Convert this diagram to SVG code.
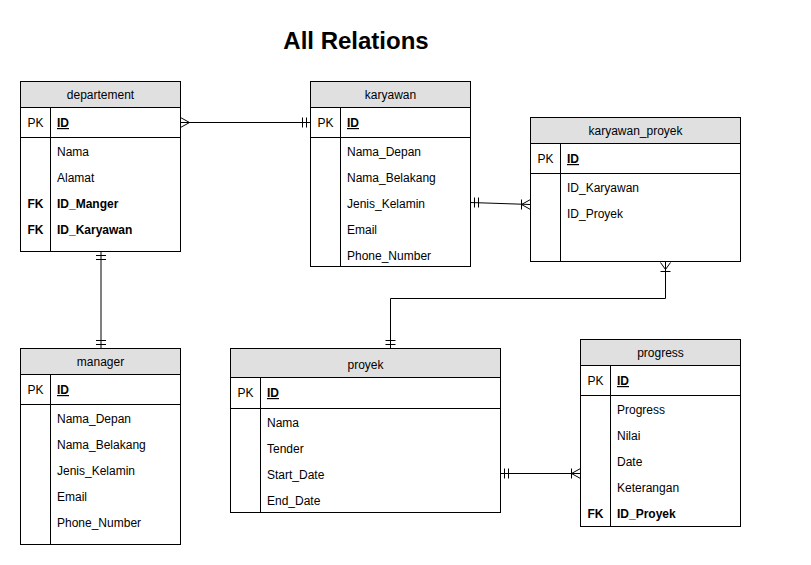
<svg xmlns="http://www.w3.org/2000/svg" width="811" height="565" viewBox="0 0 811 565">
<style>
text{font-family:"Liberation Sans",Arial,sans-serif;font-size:12px;fill:#000}
.title{font-size:24px;font-weight:bold}
.hdr{fill:#e0e0e0;stroke:#000;stroke-width:1}
.box{fill:#fff;stroke:#000;stroke-width:1}
.ln{stroke:#000;stroke-width:1;fill:none}
.b{font-weight:bold}
.u{font-weight:bold;text-decoration:underline}
.c{text-anchor:middle}
</style>
<rect width="811" height="565" fill="#fff"/>
<text class="title c" x="356" y="49">All Relations</text>

<g id="departement">
<rect class="box" x="20.5" y="81.5" width="160" height="170"/>
<rect class="hdr" x="20.5" y="81.5" width="160" height="26"/>
<line class="ln" x1="20.5" y1="137.5" x2="180.5" y2="137.5"/>
<line class="ln" x1="50.5" y1="107.5" x2="50.5" y2="251.5"/>
<text class="c" x="100.5" y="99">departement</text>
<text class="c" x="35.5" y="127">PK</text>
<text class="u" x="57" y="127">ID</text>
<text x="57" y="156">Nama</text>
<text x="57" y="182">Alamat</text>
<text class="b c" x="35.5" y="208">FK</text>
<text class="b" x="57" y="208">ID_Manger</text>
<text class="b c" x="35.5" y="234">FK</text>
<text class="b" x="57" y="234">ID_Karyawan</text>
</g>

<g id="karyawan">
<rect class="box" x="310.5" y="81.5" width="160" height="185"/>
<rect class="hdr" x="310.5" y="81.5" width="160" height="26"/>
<line class="ln" x1="310.5" y1="137.5" x2="470.5" y2="137.5"/>
<line class="ln" x1="340.5" y1="107.5" x2="340.5" y2="266.5"/>
<text class="c" x="390.5" y="99">karyawan</text>
<text class="c" x="325.5" y="127">PK</text>
<text class="u" x="347" y="127">ID</text>
<text x="347" y="156">Nama_Depan</text>
<text x="347" y="182">Nama_Belakang</text>
<text x="347" y="208">Jenis_Kelamin</text>
<text x="347" y="234">Email</text>
<text x="347" y="260">Phone_Number</text>
</g>

<g id="karyawan_proyek">
<rect class="box" x="530.5" y="117.5" width="210" height="144"/>
<rect class="hdr" x="530.5" y="117.5" width="210" height="26"/>
<line class="ln" x1="530.5" y1="173.5" x2="740.5" y2="173.5"/>
<line class="ln" x1="560.5" y1="143.5" x2="560.5" y2="261.5"/>
<text class="c" x="635.5" y="135">karyawan_proyek</text>
<text class="c" x="545.5" y="163">PK</text>
<text class="u" x="567" y="163">ID</text>
<text x="567" y="192">ID_Karyawan</text>
<text x="567" y="218">ID_Proyek</text>
</g>

<g id="manager">
<rect class="box" x="20.5" y="348.5" width="160" height="196"/>
<rect class="hdr" x="20.5" y="348.5" width="160" height="26"/>
<line class="ln" x1="20.5" y1="404.5" x2="180.5" y2="404.5"/>
<line class="ln" x1="50.5" y1="374.5" x2="50.5" y2="544.5"/>
<text class="c" x="100.5" y="366">manager</text>
<text class="c" x="35.5" y="394">PK</text>
<text class="u" x="57" y="394">ID</text>
<text x="57" y="423">Nama_Depan</text>
<text x="57" y="449">Nama_Belakang</text>
<text x="57" y="475">Jenis_Kelamin</text>
<text x="57" y="501">Email</text>
<text x="57" y="527">Phone_Number</text>
</g>

<g id="proyek">
<rect class="box" x="230.5" y="348.5" width="270" height="164"/>
<rect class="hdr" x="230.5" y="348.5" width="270" height="29"/>
<line class="ln" x1="230.5" y1="408.5" x2="500.5" y2="408.5"/>
<line class="ln" x1="260.5" y1="377.5" x2="260.5" y2="512.5"/>
<text class="c" x="365.5" y="369">proyek</text>
<text class="c" x="245.5" y="397">PK</text>
<text class="u" x="267" y="397">ID</text>
<text x="267" y="427">Nama</text>
<text x="267" y="453">Tender</text>
<text x="267" y="479">Start_Date</text>
<text x="267" y="505">End_Date</text>
</g>

<g id="progress">
<rect class="box" x="580.5" y="339.5" width="160" height="187"/>
<rect class="hdr" x="580.5" y="339.5" width="160" height="26"/>
<line class="ln" x1="580.5" y1="395.5" x2="740.5" y2="395.5"/>
<line class="ln" x1="610.5" y1="365.5" x2="610.5" y2="526.5"/>
<text class="c" x="660.5" y="357">progress</text>
<text class="c" x="595.5" y="385">PK</text>
<text class="u" x="617" y="385">ID</text>
<text x="617" y="414">Progress</text>
<text x="617" y="440">Nilai</text>
<text x="617" y="466">Date</text>
<text x="617" y="492">Keterangan</text>
<text class="b c" x="595.5" y="518">FK</text>
<text class="b" x="617" y="518">ID_Proyek</text>
</g>

<g id="connectors" class="ln">
<line x1="180.5" y1="122.5" x2="310.5" y2="122.5"/>
<polyline points="180.5,117.5 189.5,122.5 180.5,127.5"/>
<line x1="302.5" y1="117.5" x2="302.5" y2="127.5"/>
<line x1="306.5" y1="117.5" x2="306.5" y2="127.5"/>
<line x1="470.5" y1="202.5" x2="530.5" y2="204.5"/>
<line x1="474.5" y1="197.5" x2="474.5" y2="207.5"/>
<line x1="478.5" y1="197.5" x2="478.5" y2="207.5"/>
<line x1="521.5" y1="199.5" x2="521.5" y2="209.5"/>
<polyline points="530.5,199.5 521.5,204.5 530.5,209.5"/>
<polyline points="665.5,261.5 665.5,298.5 390.5,298.5 390.5,348.5"/>
<polyline points="660.5,262.5 665.5,269.5 670.5,262.5"/>
<line x1="660.5" y1="271.5" x2="670.5" y2="271.5"/>
<line x1="385.5" y1="340.5" x2="395.5" y2="340.5"/>
<line x1="385.5" y1="344.5" x2="395.5" y2="344.5"/>
<line x1="101" y1="251.5" x2="101" y2="348.5"/>
<line x1="96" y1="255.5" x2="106" y2="255.5"/>
<line x1="96" y1="259.5" x2="106" y2="259.5"/>
<line x1="96" y1="340.5" x2="106" y2="340.5"/>
<line x1="96" y1="344.5" x2="106" y2="344.5"/>
<line x1="500.5" y1="473.5" x2="580.5" y2="473.5"/>
<line x1="504.5" y1="468.5" x2="504.5" y2="478.5"/>
<line x1="508.5" y1="468.5" x2="508.5" y2="478.5"/>
<line x1="571.5" y1="468.5" x2="571.5" y2="478.5"/>
<polyline points="580.5,468.5 571.5,473.5 580.5,478.5"/>
</g>
</svg>
